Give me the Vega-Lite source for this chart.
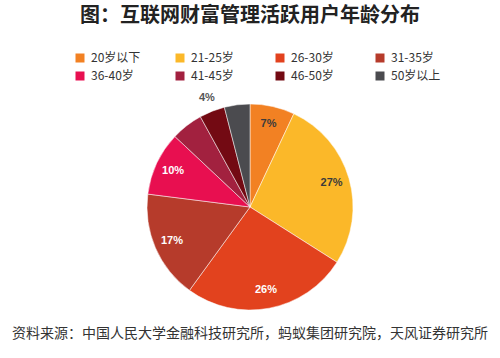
{
  "$schema": "https://vega.github.io/schema/vega-lite/v6.json",
  "padding": {"top": 5, "left": 0, "right": 0, "bottom": 0},
  "background": "white",
  "spacing": 0,
  "config": {"view": {"stroke": null}, "font": "Noto Sans CJK SC"},
  "title": {
    "text": "资料来源：中国人民大学金融科技研究所，蚂蚁集团研究院，天风证券研究所",
    "orient": "bottom", "anchor": "middle", "fontSize": 14, "fontWeight": "normal",
    "color": "#333333", "offset": 0, "font": "Noto Sans CJK SC"
  },
  "vconcat": [
    {
      "width": 500,
      "height": 218,
      "title": {
        "text": "图：互联网财富管理活跃用户年龄分布",
        "fontSize": 20, "fontWeight": "bold", "color": "#222222", "anchor": "middle",
        "offset": 59, "font": "Noto Sans CJK SC", "lineHeight": 22
      },
      "data": {
        "values": [
          {"k": 1, "group": "20岁以下", "value": 7, "label": "7%"},
          {"k": 2, "group": "21-25岁", "value": 27, "label": "27%"},
          {"k": 3, "group": "26-30岁", "value": 26, "label": "26%"},
          {"k": 4, "group": "31-35岁", "value": 17, "label": "17%"},
          {"k": 5, "group": "36-40岁", "value": 10, "label": "10%"},
          {"k": 6, "group": "41-45岁", "value": 5, "label": ""},
          {"k": 7, "group": "46-50岁", "value": 4, "label": "4%"},
          {"k": 8, "group": "50岁以上", "value": 4, "label": ""}
        ]
      },
      "encoding": {
        "theta": {"field": "value", "type": "quantitative", "stack": true},
        "order": {"field": "k", "type": "quantitative"}
      },
      "layer": [
        {
          "mark": {"type": "arc", "outerRadius": 103, "stroke": "white", "strokeWidth": 0.5},
          "encoding": {
            "color": {
              "field": "group", "type": "nominal",
              "scale": {
                "domain": ["20岁以下", "21-25岁", "26-30岁", "31-35岁", "36-40岁", "41-45岁", "46-50岁", "50岁以上"],
                "range": ["#F28123", "#FBB829", "#E2421E", "#B63B2B", "#E80F50", "#A2213F", "#730A13", "#4B4B4F"]
              },
              "legend": {
                "orient": "none", "legendX": 74, "legendY": -46,
                "direction": "horizontal", "columns": 4, "gridAlign": "all",
                "columnPadding": 33, "rowPadding": 6, "symbolType": "square",
                "symbolSize": 81, "symbolStrokeWidth": 0, "labelFontSize": 12,
                "labelOffset": 5, "labelColor": "#333333", "title": null,
                "labelFont": "Noto Sans CJK SC", "symbolOpacity": 1
              }
            }
          }
        },
        {
          "mark": {"type": "text", "font": "Liberation Sans", "fontWeight": "bold", "fontSize": 11, "radius": 85},
          "encoding": {
            "text": {"condition": {"test": "datum.group === '46-50岁'", "value": ""}, "field": "label", "type": "nominal"},
            "color": {
              "condition": {"test": "datum.group === '20岁以下' || datum.group === '21-25岁'", "value": "#3b3b3b"},
              "value": "white"
            }
          }
        },
        {
          "mark": {"type": "text", "font": "Liberation Sans", "fontWeight": "bold", "fontSize": 11, "radius": 117, "color": "#555555"},
          "encoding": {
            "text": {"condition": {"test": "datum.group !== '46-50岁'", "value": ""}, "field": "label", "type": "nominal"}
          }
        }
      ]
    }
  ]
}
